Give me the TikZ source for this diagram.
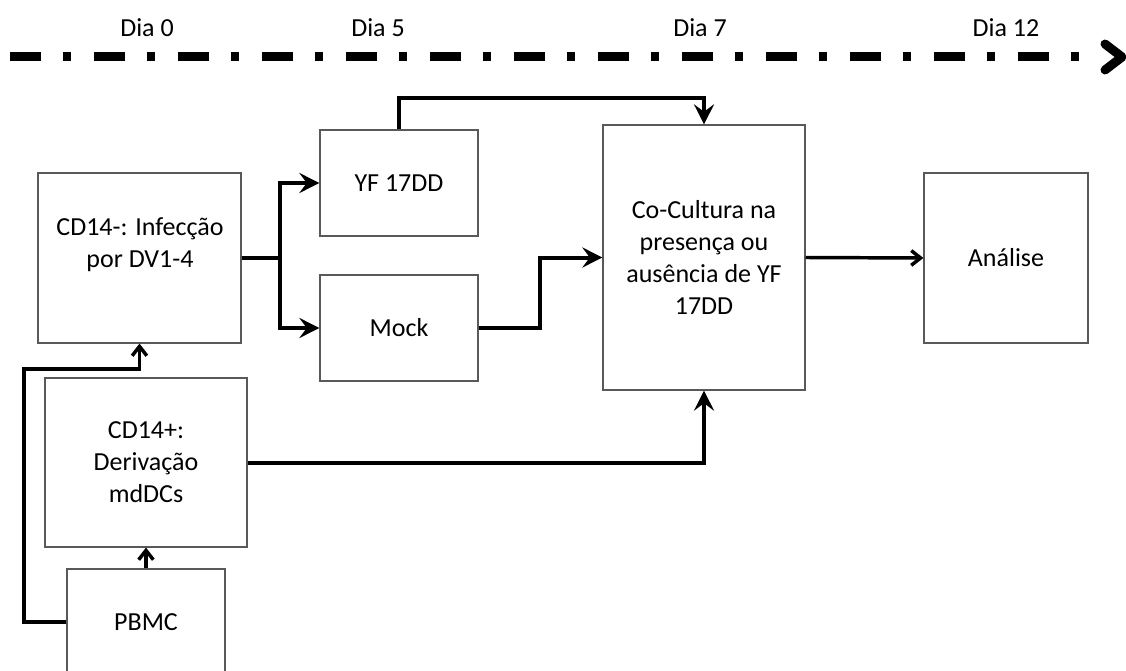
\documentclass[tikz,border=0pt]{standalone}
\usepackage{fontspec}
\setmainfont{Carlito}
\usetikzlibrary{arrows.meta}
\newcommand{\txtfont}{\fontsize{19.5}{24}\selectfont}
\tikzset{
  box/.style={draw=black!65, line width=0.9pt, inner sep=0pt, align=center, font=\txtfont, fill=white},
  wh/.style 2 args={minimum width=#1*0.75pt, minimum height=#2*0.75pt},
  txt/.style={inner sep=0pt, align=center, font=\txtfont},
  thickarr/.style={-{Stealth[length=15pt,width=15pt,inset=5.5pt]}, line width=3pt},
  thickline/.style={line width=3pt},
  thinarr/.style={-{Straight Barb[length=7pt,width=11pt]}, line width=2.6pt},
  timeline/.style={line width=6.75pt, dash pattern=on 23.25pt off 16.5pt on 6pt off 17.25pt},
}
\begin{document}
\begin{tikzpicture}[x=0.75pt, y=-0.75pt]
\useasboundingbox (0,0) rectangle (1126,670);
\clip (0,0) rectangle (1126,670);
% timeline
\coordinate (tl0) at (10,57);
\coordinate (tl1) at (1079,57);
\draw[timeline] (tl0) -- (tl1);
\coordinate (ah1) at (1105,44);
\coordinate (ah2) at (1122,57);
\coordinate (ah3) at (1105,70);
\draw[line width=6.75pt, line cap=round, line join=round] (ah1) -- (ah2) -- (ah3);
\node[txt] (d0) at (147,28) {Dia 0};
\node[txt] (d5) at (378,28) {Dia 5};
\node[txt] (d7) at (700,28) {Dia 7};
\node[txt] (d12) at (1006,28) {Dia 12};
% boxes
\node[box, wh={203}{170}] (cd14m) at (139.5,258) {};
\node[txt] (cd14mt) at (140,245) {CD14-: Infecção\\por DV1-4};
\node[box, wh={158}{106}] (yf) at (399,183) {YF 17DD};
\node[box, wh={158}{106}] (mock) at (399,328) {Mock};
\node[box, wh={202}{265}] (co) at (704,257.5) {Co-Cultura na\\presença ou\\ausência de YF\\17DD};
\node[box, wh={164}{170}] (an) at (1006,258) {Análise};
\node[box, wh={202}{169}] (cd14p) at (146,462.5) {CD14+:\\Derivação\\mdDCs};
\node[box, wh={158}{106}] (pbmc) at (146,622) {PBMC};
% connectors
\coordinate (a1) at (24,369);
\draw[thinarr] (pbmc.west) -| (a1) -| (cd14m.south);
\draw[thinarr] (pbmc.north) -- (cd14p.south);
\coordinate (b1) at (280,258);
\draw[thickline] (cd14m.east) -- (b1);
\draw[thickarr] (b1) |- (yf.west);
\draw[thickarr] (b1) |- (mock.west);
\coordinate (t1) at (550,98);
\draw[thickarr] (yf.north) |- (t1) -| (co.north);
\coordinate (m1) at (540,290);
\draw[thickarr] (mock.east) -| (m1) |- (co.west);
\draw[thickarr] (cd14p.east) -| (co.south);
\draw[thinarr] (co.east) -- (an.west);
\end{tikzpicture}
\end{document}
